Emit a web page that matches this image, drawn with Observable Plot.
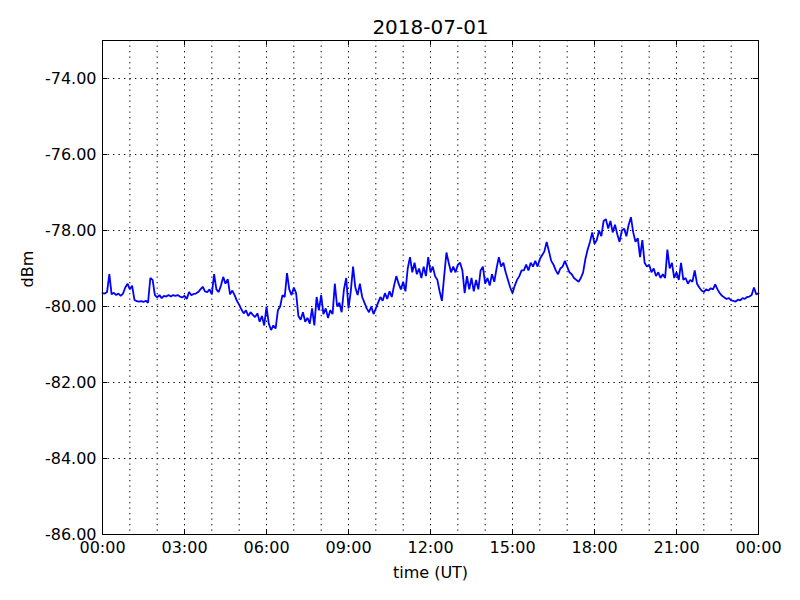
<!DOCTYPE html>
<html>
<head>
<meta charset="utf-8">
<script src="https://cdn.jsdelivr.net/npm/d3@7"></script>
<script src="https://cdn.jsdelivr.net/npm/@observablehq/plot@0.6"></script>
<style>
  html, body { margin: 0; padding: 0; background: white; }
</style>
</head>
<body>
<div id="chart"></div>
<script>
// ---- data ----
const title = "2018-07-01";
const xLabel = "time (UT)";
const yLabel = "dBm";
const startTime = "2018-07-01T00:00:00Z";
const endTime = "2018-07-02T00:00:00Z";
const stepMinutes = 5;
const yDomain = [-86, -73];
const yTickValues = [-86, -84, -82, -80, -78, -76, -74];
const xLabelHours = [0, 3, 6, 9, 12, 15, 18, 21, 24];
const xGridHours = [0,1,2,3,4,5,6,7,8,9,10,11,12,13,14,15,16,17,18,19,20,21,22,23,24];

// signal level, dBm, one reading every 5 minutes from 00:00 to 24:00
const dbm = [
  -79.65,-79.66,-79.62,-79.15,-79.68,-79.64,-79.70,-79.66,-79.72,-79.66,
  -79.50,-79.40,-79.55,-79.45,-79.82,-79.86,-79.87,-79.86,-79.88,-79.85,
  -79.90,-79.25,-79.30,-79.70,-79.76,-79.70,-79.78,-79.72,-79.74,-79.70,
  -79.74,-79.70,-79.72,-79.70,-79.74,-79.76,-79.72,-79.80,-79.62,-79.70,
  -79.67,-79.66,-79.62,-79.55,-79.48,-79.60,-79.62,-79.55,-79.68,-79.15,
  -79.55,-79.62,-79.45,-79.22,-79.40,-79.28,-79.68,-79.58,-79.70,-79.85,
  -79.95,-80.08,-80.18,-80.10,-80.25,-80.15,-80.22,-80.28,-80.18,-80.40,
  -80.25,-80.50,-80.00,-80.45,-80.62,-80.50,-80.58,-80.10,-80.00,-79.70,
  -79.75,-79.12,-79.55,-79.70,-79.50,-79.65,-80.25,-80.35,-80.15,-80.40,
  -80.30,-80.45,-80.05,-80.50,-79.75,-80.10,-79.70,-80.20,-80.05,-80.30,
  -80.10,-80.20,-79.40,-80.00,-79.90,-80.15,-79.55,-79.25,-80.05,-79.60,
  -78.95,-79.50,-79.70,-79.40,-79.75,-79.90,-80.05,-80.15,-80.00,-80.20,
  -80.05,-79.90,-79.75,-79.85,-79.65,-79.80,-79.60,-79.75,-79.45,-79.20,
  -79.40,-79.55,-79.35,-79.60,-79.00,-78.70,-79.10,-78.85,-79.15,-79.00,
  -79.25,-78.95,-79.20,-78.70,-79.10,-78.95,-79.20,-79.30,-79.60,-79.85,
  -79.20,-78.58,-78.85,-79.10,-78.95,-79.10,-78.90,-78.85,-79.05,-79.65,
  -79.20,-79.55,-79.25,-79.60,-79.30,-79.55,-79.05,-78.95,-79.40,-79.25,
  -79.45,-79.15,-79.35,-79.00,-78.70,-78.95,-78.85,-79.10,-79.30,-79.50,
  -79.65,-79.45,-79.30,-79.20,-79.05,-79.05,-78.90,-79.05,-78.85,-78.95,
  -78.80,-78.95,-78.75,-78.65,-78.55,-78.30,-78.55,-78.80,-78.90,-79.05,
  -79.15,-79.00,-78.95,-78.80,-78.95,-79.10,-79.15,-79.25,-79.30,-79.35,
  -79.25,-79.10,-78.75,-78.50,-78.30,-78.05,-78.35,-78.25,-78.00,-78.15,
  -77.75,-77.70,-77.95,-77.75,-78.05,-77.85,-78.10,-78.30,-78.00,-77.95,
  -78.15,-77.85,-77.65,-78.05,-78.30,-78.20,-78.70,-78.25,-78.85,-78.95,
  -78.90,-79.10,-79.00,-79.20,-79.10,-79.25,-79.15,-79.25,-78.50,-79.00,
  -78.85,-79.25,-79.10,-79.30,-78.85,-79.30,-79.25,-79.40,-79.30,-79.35,
  -79.05,-79.40,-79.50,-79.58,-79.62,-79.55,-79.58,-79.52,-79.55,-79.42,
  -79.55,-79.65,-79.72,-79.76,-79.80,-79.78,-79.84,-79.85,-79.87,-79.82,
  -79.84,-79.78,-79.80,-79.75,-79.74,-79.70,-79.50,-79.68,-79.65
];

// ---- build table ----
const t0 = new Date(startTime).getTime();
const rows = dbm.map((v, i) => ({t: new Date(t0 + i * stepMinutes * 60000), v}));
const hourDate = h => new Date(t0 + h * 3600000);
const xLabelDates = xLabelHours.map(hourDate);
const xGridDates = xGridHours.map(hourDate);

const W = 800, H = 600;
const mL = 102, mR = 42, mT = 40, mB = 66;
const fw = W - mL - mR, fh = H - mT - mB;
const tick = 5;
const dots = "1.3,4.2";

const chart = Plot.plot({
  width: W,
  height: H,
  marginLeft: mL,
  marginRight: mR,
  marginTop: mT,
  marginBottom: mB,
  style: {fontFamily: "'DejaVu Sans', sans-serif", fontSize: "16px", background: "white", color: "black"},
  x: {type: "utc", domain: [new Date(startTime), new Date(endTime)]},
  y: {domain: yDomain, nice: false},
  marks: [
    Plot.gridX(xGridDates, {stroke: "black", strokeOpacity: 1, strokeWidth: 1, strokeDasharray: dots}),
    Plot.gridY(yTickValues, {stroke: "black", strokeOpacity: 1, strokeWidth: 1, strokeDasharray: dots}),
    // inward tick marks on all four sides
    Plot.tickX(xLabelDates, {x: d => d, stroke: "black", insetTop: fh - tick}),
    Plot.tickX(xLabelDates, {x: d => d, stroke: "black", insetBottom: fh - tick}),
    Plot.tickY(yTickValues, {y: d => d, stroke: "black", insetRight: fw - tick}),
    Plot.tickY(yTickValues, {y: d => d, stroke: "black", insetLeft: fw - tick}),
    Plot.line(rows, {x: "t", y: "v", stroke: "#0000ff", strokeWidth: 1.8, strokeLinejoin: "miter"}),
    Plot.frame({stroke: "black", strokeWidth: 1}),
    Plot.axisX(xLabelDates, {tickSize: 0, tickPadding: 7, tickFormat: d3.utcFormat("%H:%M"), label: null, fontSize: 16}),
    Plot.axisY(yTickValues, {tickSize: 0, tickPadding: 6, tickFormat: d => d.toFixed(2), label: null, fontSize: 16}),
    Plot.text([xLabel], {text: d => d, frameAnchor: "bottom", lineAnchor: "middle", dy: 38, fontSize: 16, fill: "black"}),
    Plot.text([yLabel], {text: d => d, frameAnchor: "left", lineAnchor: "middle", dx: -75, rotate: -90, fontSize: 16, fill: "black"}),
    Plot.text([title], {text: d => d, frameAnchor: "top", lineAnchor: "middle", dy: -13, fontSize: 20, fill: "black"})
  ]
});

document.getElementById("chart").appendChild(chart);
</script>
</body>
</html>
